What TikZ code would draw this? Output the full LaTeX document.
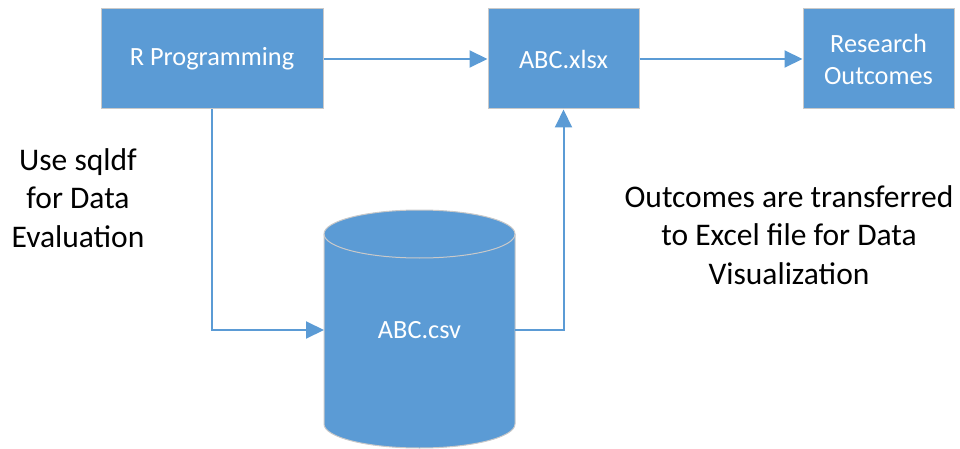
\documentclass[tikz,border=0pt]{standalone}
\usepackage{fontspec}
\setmainfont{Carlito}
\usetikzlibrary{arrows.meta}
\definecolor{boxblue}{HTML}{5B9BD5}
\definecolor{edgegrey}{HTML}{C9C9C9}
\tikzset{
  box/.style={draw=edgegrey, line width=1pt, fill=boxblue, text=white, font=\fontsize{26.3}{32}\selectfont, align=center, inner sep=0pt},
  conn/.style={draw=boxblue, line width=2pt, -{Triangle[length=18pt,width=17pt]}},
  side/.style={align=center, font=\fontsize{31.5}{38.5}\selectfont, inner sep=0pt}
}
\begin{document}
\begin{tikzpicture}[x=1pt,y=-1pt]
\useasboundingbox (0,0) rectangle (960,449);
% boxes
\node[box, minimum width=222pt, minimum height=100pt] (rp) at (212,59) {R Programming};
\node[box, minimum width=151pt, minimum height=100pt] (xlsx) at (563.5,59) {ABC.xlsx};
\node[box, minimum width=151pt, minimum height=100pt] (res) at (878.5,59) {Research\\Outcomes};
% cylinder
\fill[boxblue] (324,234) -- (324,424) arc[start angle=180, end angle=0, x radius=95.5, y radius=24] -- (515,234) arc[start angle=0, end angle=-180, x radius=95.5, y radius=24] -- cycle;
\draw[edgegrey, line width=1pt] (324,234) -- (324,424) arc[start angle=180, end angle=0, x radius=95.5, y radius=24] -- (515,234) arc[start angle=0, end angle=-180, x radius=95.5, y radius=24];
\draw[edgegrey, line width=1pt] (324,234) arc[start angle=180, end angle=0, x radius=95.5, y radius=24];
\node[text=white, font=\fontsize{26.3}{32}\selectfont, inner sep=0pt] (csv) at (419.5,330) {ABC.csv};
\coordinate (cylL) at (324,330);
\coordinate (cylR) at (515,330);
% connectors
\draw[conn] (rp.east) -- (xlsx.west);
\draw[conn] (xlsx.east) -- (res.west);
\draw[conn] (rp.south) |- (cylL);
\draw[conn] (cylR) -| (xlsx.south);
% side texts
\node[side] (t1) at (78,198) {Use sqldf\\for Data\\Evaluation};
\node[side] (t2) at (789,235) {Outcomes are transferred\\to Excel file for Data\\Visualization};
\end{tikzpicture}
\end{document}
